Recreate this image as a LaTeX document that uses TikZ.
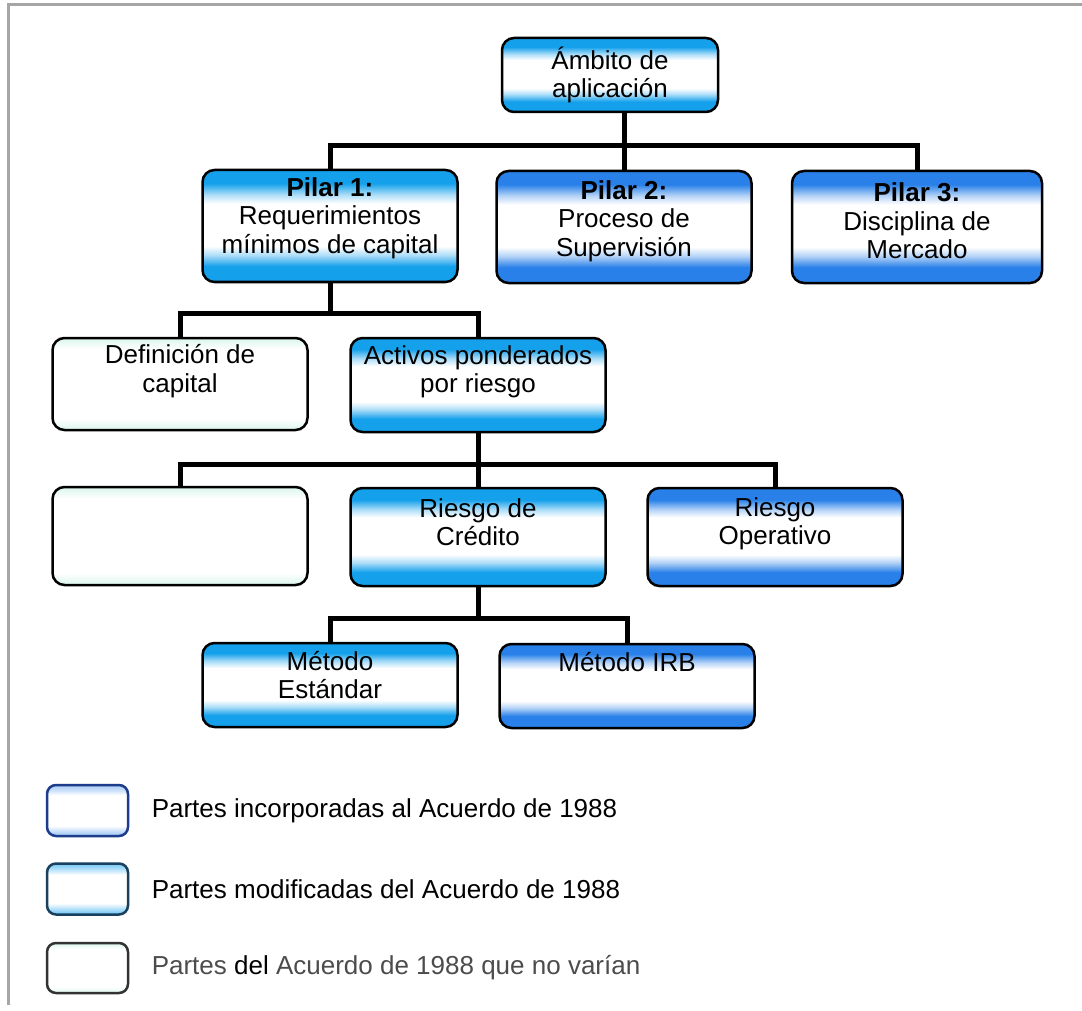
\documentclass[tikz,border=0pt]{standalone}
\usepackage{fontspec}
\setmainfont{Liberation Sans}
\usetikzlibrary{positioning}

\definecolor{modblue}{RGB}{20,160,235}
\definecolor{newblue}{RGB}{40,128,232}
\definecolor{mint}{RGB}{218,246,236}
\definecolor{navy}{RGB}{30,60,140}
\definecolor{deepteal}{RGB}{25,65,95}

\pgfdeclareverticalshading{modshade}{100bp}{color(0bp)=(modblue); color(25bp)=(modblue); color(32bp)=(modblue); color(37bp)=(modblue!35!white); color(41bp)=(white); color(60bp)=(white); color(64bp)=(modblue!35!white); color(69bp)=(modblue); color(75bp)=(modblue); color(100bp)=(modblue)}
\pgfdeclareverticalshading{newshade}{100bp}{color(0bp)=(newblue); color(25bp)=(newblue); color(32bp)=(newblue); color(37bp)=(newblue!35!white); color(41bp)=(white); color(60bp)=(white); color(64bp)=(newblue!35!white); color(69bp)=(newblue); color(75bp)=(newblue); color(100bp)=(newblue)}
\pgfdeclareverticalshading{keepshade}{100bp}{color(0bp)=(mint); color(25bp)=(mint); color(31bp)=(white); color(69bp)=(white); color(75bp)=(mint); color(100bp)=(mint)}
\pgfdeclareverticalshading{legnewshade}{100bp}{color(0bp)=(newblue!50!white); color(25bp)=(newblue!50!white); color(30bp)=(newblue!25!white); color(35bp)=(white); color(65bp)=(white); color(70bp)=(newblue!25!white); color(75bp)=(newblue!40!white); color(100bp)=(newblue!40!white)}
\pgfdeclareverticalshading{legmodshade}{100bp}{color(0bp)=(modblue!65!white); color(25bp)=(modblue!65!white); color(31bp)=(modblue!30!white); color(36bp)=(white); color(64bp)=(white); color(69bp)=(modblue!30!white); color(75bp)=(modblue!60!white); color(100bp)=(modblue!60!white)}

\begin{document}
\begin{tikzpicture}[
    x=1pt, y=-1pt,
    box/.style={draw, line width=2.5pt, rounded corners=12pt, minimum width=255pt, minimum height=98pt},
    modbox/.style={box, shading=modshade},
    newbox/.style={box, shading=newshade},
    keepbox/.style={box, shading=keepshade},
    txt/.style={align=center, font=\fontsize{26}{28.5}\selectfont},
    conn/.style={draw, line width=5pt},
    legbox/.style={draw, line width=2.5pt, rounded corners=9pt, minimum width=81pt, minimum height=51pt},
    legtxt/.style={font=\fontsize{26}{30}\selectfont}
]

\fill[white] (0,0) rectangle (1082,1011);
\useasboundingbox (0,0) rectangle (1082,1011);

% scan frame
\draw[gray!70, line width=3pt] (8,1005) -- (8,5) -- (1082,5);

% Define node positions
\node[modbox, minimum width=216pt, minimum height=74pt] (amb) at (610,75) {};
\node[modbox, minimum height=112pt] (pil1) at (330,226) {};
\node[newbox, minimum height=112pt] (pil2) at (624,227) {};
\node[newbox, minimum width=250pt, minimum height=112pt] (pil3) at (917,227) {};
\node[keepbox, minimum height=92pt] (dcap) at (180,384) {};
\node[modbox, minimum height=94pt] (apr) at (478,385) {};
\node[keepbox] (blank) at (180,536) {};
\node[modbox] (rcred) at (478,537) {};
\node[newbox] (rop) at (775,537) {};
\node[modbox, minimum height=84pt] (mest) at (330,685) {};
\node[newbox, minimum height=84pt] (mirb) at (627,686) {};

% Texts inside the boxes
\node[txt] (ambt) at (amb) {Ámbito de\\aplicación};
\node[txt] (pil1t) at ([yshift=8pt]pil1.center) {\textbf{Pilar 1:}\\Requerimientos\\mínimos de capital};
\node[txt] (pil2t) at ([yshift=6pt]pil2.center) {\textbf{Pilar 2:}\\Proceso de\\Supervisión};
\node[txt] (pil3t) at ([yshift=6pt]pil3.center) {\textbf{Pilar 3:}\\Disciplina de\\Mercado};
\node[txt] (dcapt) at ([yshift=13pt]dcap.center) {Definición de\\capital};
\node[txt] (aprt) at ([yshift=13pt]apr.center) {Activos ponderados\\por riesgo};
\node[txt] (rcredt) at ([yshift=15pt]rcred.center) {Riesgo de\\Crédito};
\node[txt] (ropt) at ([yshift=13pt]rop.center) {Riesgo\\Operativo};
\node[txt] (mestt) at ([yshift=10pt]mest.center) {Método\\Estándar};
\node[txt] (mirbt) at ([yshift=24pt]mirb.center) {Método IRB};

% Connectors
\draw[conn] (pil2.north) -- (pil2.north |- amb.south);
\draw[conn] (pil1.north) -- ++(0,-23) -| (pil3.north);
\draw[conn] (pil1.south) -- ++(0,30) -| (dcap.north);
\draw[conn] (pil1.south) -- ++(0,30) -| (apr.north);
\draw[conn] (apr.south) -- ++(0,31) -| (blank.north);
\draw[conn] (apr.south) -- ++(0,31) -| (rop.north);
\draw[conn] (apr.south) -- (rcred.north);
\draw[conn] (rcred.south) -- ++(0,31) -| (mest.north);
\draw[conn] (rcred.south) -- ++(0,31) -| (mirb.north);

% Legend
\node[legbox, draw=navy, shading=legnewshade] (lg1) at (87.5,810.5) {};
\node[legbox, draw=deepteal, shading=legmodshade] (lg2) at (87.5,889) {};
\node[legbox, draw=black!80, shading=keepshade, minimum height=50pt] (lg3) at (87.5,968) {};
\node[right=19pt of lg1, legtxt] (lt1) {Partes incorporadas al Acuerdo de 1988};
\node[right=19pt of lg2, legtxt] (lt2) {Partes modificadas del Acuerdo de 1988};
\node[right=19pt of lg3, legtxt, text=black!70] (lt3) {Partes {\color{black}del} Acuerdo de 1988 que no varían};

\end{tikzpicture}
\end{document}
